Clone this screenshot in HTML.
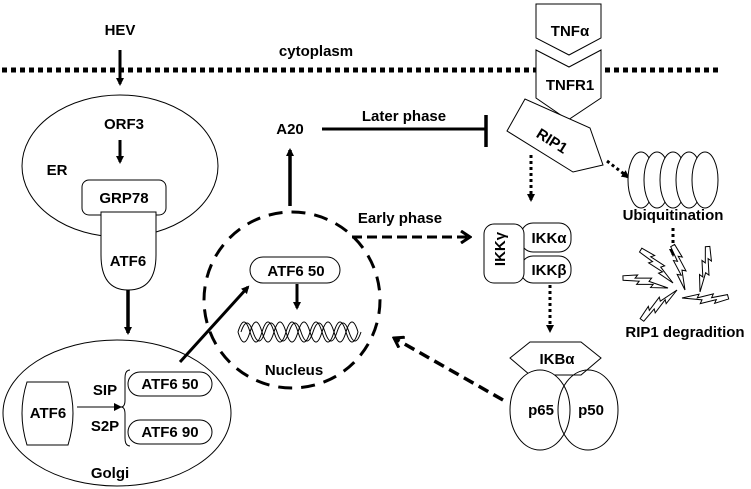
<!DOCTYPE html>
<html><head><meta charset="utf-8"><style>
body{margin:0;background:#fff;}
svg{display:block;font-family:"Liberation Sans",Arial,sans-serif;font-weight:bold;}
</style></head><body>
<svg width="751" height="489" viewBox="0 0 751 489" xmlns="http://www.w3.org/2000/svg">
<defs>
<marker id="ah" markerWidth="8" markerHeight="8" refX="6" refY="4" orient="auto" markerUnits="userSpaceOnUse"><path d="M0,0 L8,4 L0,8 z" fill="#000"/></marker>
<marker id="ao" markerWidth="12" markerHeight="14" refX="10" refY="7" orient="auto" markerUnits="userSpaceOnUse"><path d="M1,1 L10,7 L1,13" fill="none" stroke="#000" stroke-width="3"/></marker>
<g id="bolt"><polygon points="0,0 16,-7 15,-3 30,-10 29,-6 44,-12 46,-8 33,-1 34,-5 19,2 20,-2" fill="#fff" stroke="#000" stroke-width="1"/></g>
</defs>
<g fill="#000" font-size="15" text-anchor="middle">
<line x1="2" y1="70" x2="718" y2="70" stroke="#000" stroke-width="5" stroke-dasharray="5,4"/>
<text x="120" y="35">HEV</text>
<text x="316" y="56">cytoplasm</text>
<line x1="120" y1="50" x2="120" y2="84" stroke="#000" stroke-width="3" marker-end="url(#ah)"/>
<ellipse cx="120" cy="166" rx="98" ry="71" fill="none" stroke="#000" stroke-width="1"/>
<text x="124" y="129">ORF3</text>
<line x1="120" y1="140" x2="120" y2="162" stroke="#000" stroke-width="3" marker-end="url(#ah)"/>
<text x="57" y="175">ER</text>
<rect x="82" y="180" width="84" height="35" rx="7" fill="#fff" stroke="#000" stroke-width="1"/>
<text x="124" y="203">GRP78</text>
<path d="M101,212 L156,212 L156,255 Q156,290 128,290 Q101,290 101,255 Z" fill="#fff" stroke="#000" stroke-width="1"/>
<text x="128" y="266">ATF6</text>
<line x1="128" y1="290" x2="128" y2="333" stroke="#000" stroke-width="3.5" marker-end="url(#ah)"/>
<ellipse cx="117" cy="413" rx="114" ry="73" fill="none" stroke="#000" stroke-width="1"/>
<path d="M27,382 L68,382 Q78,413 68,445 L27,445 Q17,413 27,382 Z" fill="#fff" stroke="#000" stroke-width="1"/>
<text x="48" y="418">ATF6</text>
<line x1="77" y1="407" x2="120" y2="407" stroke="#000" stroke-width="1" marker-end="url(#ah)"/>
<text x="105" y="395">SIP</text>
<text x="105" y="431">S2P</text>
<path d="M130,370 Q125,370 125,378 L125,400 Q125,407 121,407 Q125,407 125,414 L125,438 Q125,446 130,446" fill="none" stroke="#000" stroke-width="1"/>
<rect x="128" y="372" width="84" height="24" rx="12" fill="#fff" stroke="#000" stroke-width="1"/>
<text x="170" y="389">ATF6 50</text>
<rect x="128" y="420" width="84" height="24" rx="12" fill="#fff" stroke="#000" stroke-width="1"/>
<text x="170" y="437">ATF6 90</text>
<text x="110" y="478">Golgi</text>
<line x1="180" y1="362" x2="248" y2="287" stroke="#000" stroke-width="3" marker-end="url(#ah)"/>
<circle cx="292" cy="300" r="88" fill="none" stroke="#000" stroke-width="3" stroke-dasharray="14,9"/>
<rect x="250" y="257" width="90" height="26" rx="13" fill="#fff" stroke="#000" stroke-width="1"/>
<text x="296" y="276">ATF6 50</text>
<line x1="297" y1="284" x2="297" y2="308" stroke="#000" stroke-width="3" marker-end="url(#ah)"/>
<path d="M238,332 Q244,312 250,332 T262,332 T274,332 T286,332 T298,332 T310,332 T322,332 T334,332 T346,332 T358,332" fill="none" stroke="#000" stroke-width="1"/>
<path d="M238,332 Q244,352 250,332 T262,332 T274,332 T286,332 T298,332 T310,332 T322,332 T334,332 T346,332 T358,332" fill="none" stroke="#000" stroke-width="1"/>
<path d="M241,332 Q247,314 253,332 T265,332 T277,332 T289,332 T301,332 T313,332 T325,332 T337,332 T349,332 T361,332" fill="none" stroke="#000" stroke-width="1"/>
<text x="294" y="375">Nucleus</text>
<line x1="290" y1="206" x2="290" y2="150" stroke="#000" stroke-width="3.5" marker-end="url(#ah)"/>
<text x="290" y="134">A20</text>
<text x="404" y="121">Later phase</text>
<line x1="322" y1="129" x2="486" y2="129" stroke="#000" stroke-width="3"/>
<line x1="486" y1="115" x2="486" y2="147" stroke="#000" stroke-width="3.5"/>
<text x="400" y="223">Early phase</text>
<line x1="352" y1="237" x2="470" y2="237" stroke="#000" stroke-width="3" stroke-dasharray="10,5" marker-end="url(#ao)"/>
<polygon points="536,4 601,4 601,38 569,55 536,38" fill="#fff" stroke="#000" stroke-width="1"/>
<text x="570" y="36">TNFα</text>
<polygon points="536,50 569,67 601,50 601,98 568,120 536,98" fill="#fff" stroke="#000" stroke-width="1"/>
<text x="570" y="90">TNFR1</text>
<polygon points="525,99 507,131 573,172 603,165 590,128" fill="#fff" stroke="#000" stroke-width="1"/>
<text x="552" y="146" transform="rotate(32 552 141)">RIP1</text>
<line x1="531" y1="155" x2="531" y2="200" stroke="#000" stroke-width="3" stroke-dasharray="3,3" marker-end="url(#ah)"/>
<line x1="607" y1="161" x2="628" y2="177" stroke="#000" stroke-width="3" stroke-dasharray="3,3" marker-end="url(#ah)"/>
<g fill="#fff" stroke="#000" stroke-width="1">
<ellipse cx="641" cy="180" rx="13" ry="28"/><ellipse cx="657" cy="180" rx="13" ry="28"/><ellipse cx="673" cy="180" rx="13" ry="28"/><ellipse cx="689" cy="180" rx="13" ry="28"/><ellipse cx="705" cy="180" rx="13" ry="28"/>
</g>
<text x="673" y="220">Ubiquitination</text>
<line x1="673" y1="228" x2="673" y2="255" stroke="#000" stroke-width="3" stroke-dasharray="3,3" marker-end="url(#ah)"/>
<use href="#bolt" transform="translate(673,283) rotate(-122)"/>
<use href="#bolt" transform="translate(685,290) rotate(-93)"/>
<use href="#bolt" transform="translate(700,292) rotate(-68)"/>
<use href="#bolt" transform="translate(668,288) rotate(-155)"/>
<use href="#bolt" transform="translate(677,290) rotate(152)"/>
<use href="#bolt" transform="translate(682,298) rotate(11)"/>
<text x="685" y="337">RIP1 degradition</text>
<rect x="521" y="223" width="50" height="29" rx="12" fill="#fff" stroke="#000" stroke-width="1"/>
<rect x="521" y="256" width="50" height="27" rx="12" fill="#fff" stroke="#000" stroke-width="1"/>
<rect x="484" y="224" width="40" height="59" rx="10" fill="#fff" stroke="#000" stroke-width="1"/>
<text x="549" y="243">IKKα</text>
<text x="549" y="275">IKKβ</text>
<text x="510" y="254" transform="rotate(-90 505 254)">IKKγ</text>
<line x1="550" y1="285" x2="550" y2="331" stroke="#000" stroke-width="3" stroke-dasharray="3,3" marker-end="url(#ah)"/>
<polygon points="510,358 530,342 581,342 601,358 581,375 530,375" fill="#fff" stroke="#000" stroke-width="1"/>
<text x="557" y="364">IKBα</text>
<ellipse cx="540" cy="410" rx="30" ry="40" fill="#fff" stroke="#000" stroke-width="1"/>
<ellipse cx="588" cy="410" rx="30" ry="40" fill="none" stroke="#000" stroke-width="1"/>
<text x="541" y="415">p65</text>
<text x="591" y="415">p50</text>
<line x1="503" y1="400" x2="394" y2="338" stroke="#000" stroke-width="3.5" stroke-dasharray="11,6" marker-end="url(#ao)"/>
</g>
</svg>
</body></html>
